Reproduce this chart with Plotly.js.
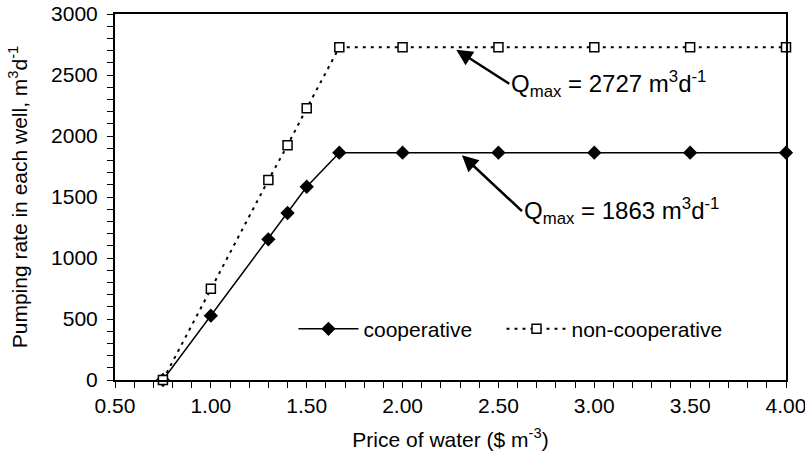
<!DOCTYPE html>
<html>
<head>
<meta charset="utf-8">
<script src="https://cdn.plot.ly/plotly-3.0.1.min.js"></script>
<style>html,body{margin:0;padding:0;background:#fff}#chart{width:805px;height:468px}</style>
</head>
<body>
<div id="chart"></div>
<script>
const price = [0.75, 1.00, 1.30, 1.40, 1.50, 1.67, 2.00, 2.50, 3.00, 3.50, 4.00];
const cooperative = [0, 527, 1153, 1369, 1584, 1863, 1863, 1863, 1863, 1863, 1863];
const nonCooperative = [0, 748, 1639, 1924, 2227, 2727, 2727, 2727, 2727, 2727, 2727];
const seriesNames = ["cooperative", "non-cooperative"];
const qmaxCoop = 1863;
const qmaxNonCoop = 2727;

const FONT = "Arial, 'Liberation Sans', sans-serif";
const FS = 21;
const FA = 24;

const traces = [
  {
    x: price, y: cooperative, name: seriesNames[0], type: "scatter", mode: "lines+markers",
    line: {color: "#000", width: 1.5, dash: "solid"},
    marker: {symbol: "diamond", size: 11, color: "#000", line: {color: "#000", width: 0}},
    cliponaxis: false, legend: "legend"
  },
  {
    x: price, y: nonCooperative, name: seriesNames[1], type: "scatter", mode: "lines+markers",
    line: {color: "#000", width: 2, dash: "3px,5px"},
    marker: {symbol: "square", size: 9, color: "#fff", line: {color: "#000", width: 1.5}},
    cliponaxis: false, legend: "legend2"
  }
];

const legendCommon = {
  orientation: "h", yanchor: "middle", xanchor: "left",
  font: {family: FONT, size: FS, color: "#000"},
  bgcolor: "rgba(0,0,0,0)", borderwidth: 0, itemwidth: 60
};

const layout = {
  width: 805, height: 468,
  margin: {l: 115, r: 19, t: 14, b: 88},
  paper_bgcolor: "#fff", plot_bgcolor: "#fff",
  font: {family: FONT, size: FS, color: "#000"},
  showlegend: true,
  legend: Object.assign({x: 0.266, y: 0.139}, legendCommon),
  legend2: Object.assign({x: 0.576, y: 0.139}, legendCommon),
  xaxis: {
    range: [0.5, 4.0], dtick: 0.5, tick0: 0.5, tickformat: ".2f",
    showgrid: false, zeroline: false,
    showline: true, linecolor: "#000", linewidth: 2, mirror: true,
    ticks: "outside", ticklen: 6, tickwidth: 1, tickcolor: "#000",
    minor: {dtick: 0.1, ticks: "outside", ticklen: 6, tickwidth: 1, tickcolor: "#000"},
    tickfont: {family: FONT, size: FS, color: "#000"},
    ticklabeloverflow: "allow",
    title: {text: "Price of water ($ m<sup>-3</sup>)", font: {family: FONT, size: FS, color: "#000"}, standoff: 16}
  },
  yaxis: {
    range: [0, 3000], dtick: 500,
    showgrid: false, zeroline: false,
    showline: true, linecolor: "#000", linewidth: 2, mirror: true,
    ticks: "outside", ticklen: 6, tickwidth: 1, tickcolor: "#000",
    minor: {dtick: 100, ticks: "outside", ticklen: 6, tickwidth: 1, tickcolor: "#000"},
    tickfont: {family: FONT, size: FS, color: "#000"},
    ticklabelstandoff: 5,
    title: {text: "Pumping rate in each well, m<sup>3</sup>d<sup>-1</sup>", font: {family: FONT, size: FS, color: "#000"}, standoff: 18}
  },
  annotations: [
    {
      x: 2.28, y: qmaxNonCoop - 20, xref: "x", yref: "y",
      text: "Q<sub>max</sub> = " + qmaxNonCoop + " m<sup>3</sup>d<sup>-1</sup>",
      showarrow: true, ax: 53, ay: 34, xanchor: "left", yanchor: "middle",
      arrowhead: 2, arrowsize: 1.3, arrowwidth: 2.5, arrowcolor: "#000",
      font: {family: FONT, size: FA, color: "#000"}
    },
    {
      x: 2.31, y: qmaxCoop - 20, xref: "x", yref: "y",
      text: "Q<sub>max</sub> = " + qmaxCoop + " m<sup>3</sup>d<sup>-1</sup>",
      showarrow: true, ax: 60, ay: 56, xanchor: "left", yanchor: "middle",
      arrowhead: 2, arrowsize: 1.3, arrowwidth: 2.5, arrowcolor: "#000",
      font: {family: FONT, size: FA, color: "#000"}
    }
  ]
};

Plotly.newPlot("chart", traces, layout, {staticPlot: true, displayModeBar: false});
</script>
</body>
</html>
